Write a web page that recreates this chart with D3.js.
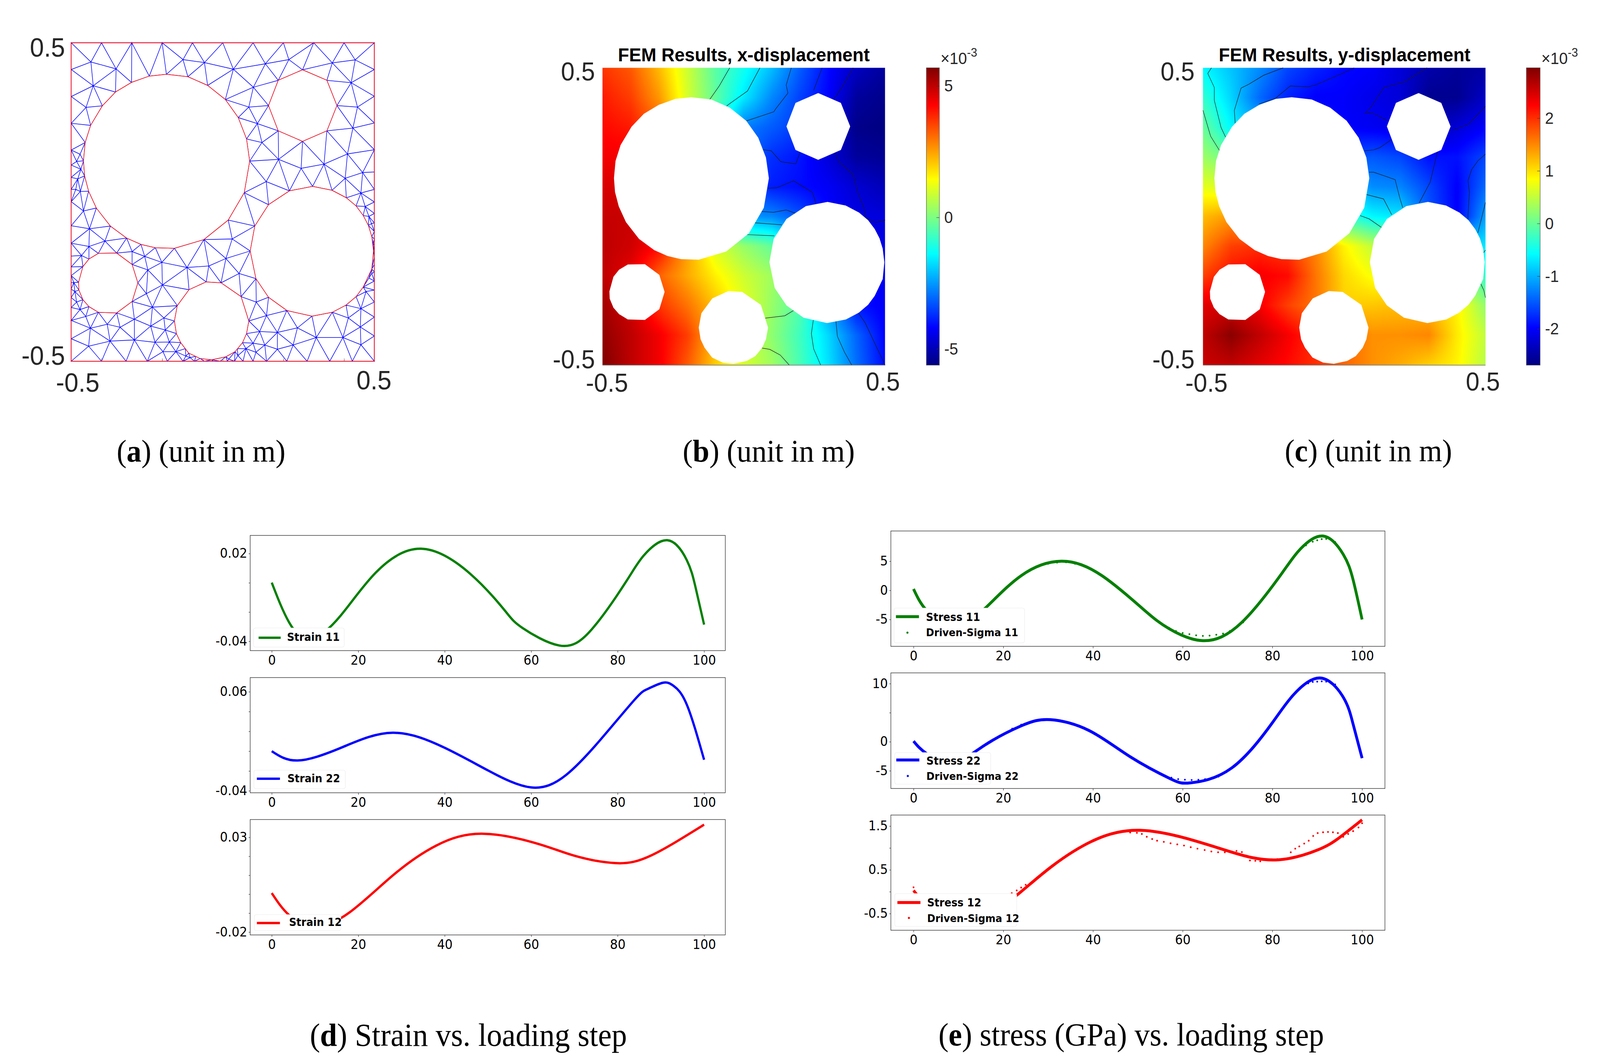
<!DOCTYPE html>
<html>
<head>
<meta charset="utf-8">
<script src="https://cdn.jsdelivr.net/npm/d3@7"></script>
<style>
html,body{margin:0;padding:0;background:#fff;overflow:hidden;width:100%;height:100%;}
svg{display:block;width:100vw;height:100vh;}
</style>
</head>
<body>
<svg id="chart" viewBox="0 0 4304 2704" preserveAspectRatio="none" xmlns="http://www.w3.org/2000/svg"></svg>
<script>
// ---------- line chart data: strain ----------
const strain11Steps=[0,4,9,16,24,34.5,46,54,58,66.5,74,82,86,91.5,96,98,100];
const strain11Values=[0.0001,-0.0270,-0.0385,-0.0222,0.0068,0.0233,0.0059,-0.0193,-0.0309,-0.0429,-0.0319,0.0010,0.0185,0.0291,0.0155,-0.0028,-0.0286];
const strain22Steps=[0,6,16,28,40,50,60,68,76,84,87,90.5,93,96,100];
const strain22Values=[0.0000,-0.0094,0.0034,0.0186,0.0034,-0.0194,-0.0366,-0.0243,0.0114,0.0523,0.0629,0.0691,0.0657,0.0470,-0.0086];
const strain12Steps=[0,4,10,18,28,38,49,62,70,79.5,88,100];
const strain12Values=[0.0006,-0.0110,-0.0170,-0.0096,0.0099,0.0256,0.0319,0.0263,0.0203,0.0164,0.0207,0.0367];
// ---------- line chart data: stress ----------
const stress11Steps=[0,3,9,15.8,24,33,42,51.3,57,64.5,73.2,82.2,86.3,91.3,95.8,98,100];
const stress11Values=[0.24,-3.54,-6.21,-3.2,2.52,5.0,2.52,-3.3,-6.6,-8.64,-5.49,3.01,7.14,9.32,6.17,1.8,-5.0];
const driven11Steps=[26,28,30,32,34,36,38,57,58.5,60,61.5,63,64.5,66,67.5,69,70.5,72,73.5,84,86,87.5,89,90,91,92,93,94];
const driven11Values=[3.5,4.22,4.56,4.76,4.81,4.56,4.13,-6.46,-6.99,-7.33,-7.52,-7.72,-7.82,-7.77,-7.62,-7.43,-6.99,-6.36,-5.49,4.95,6.89,7.72,8.35,8.59,8.79,8.83,8.69,8.3];
const stress22Steps=[0,3,9,15.8,24,30.5,39.2,48.3,57.3,61.8,70.9,80,84.5,90.5,95.8,98,100];
const stress22Values=[0.1,-2.1,-3.56,-0.63,2.73,3.8,1.9,-2.59,-6.39,-7.07,-4.54,3.27,7.9,10.98,7.66,3.02,-2.83];
const driven22Steps=[22,24,26,28,57.5,59,60.5,62,63.5,65,66.5,68,86,87,88,89,90,91,92,93,94];
const driven22Values=[2.24,2.93,3.41,3.76,-6.2,-6.44,-6.54,-6.59,-6.54,-6.44,-6.24,-6.0,9.12,9.76,10.05,10.29,10.34,10.39,10.34,10.2,9.85];
const stress12Steps=[0,2,6,11,18,23.4,30.9,40.7,50.5,61.1,70.9,80.7,90,95,100];
const stress12Values=[0.029,-0.21,-0.565,-0.7,-0.403,-0.048,0.584,1.197,1.403,1.21,0.906,0.726,0.95,1.24,1.642];
const driven12Steps=[0,21.9,23,24,25,48.3,49.8,50.9,52,53.2,54.3,55.8,57.3,58.8,60.3,61.8,63.3,64.9,66.4,67.9,69.4,70.9,72,73.2,75,76.2,77.3,78.8,79.9,81.1,84.1,85.1,86,87.1,88.1,89.1,90.1,91.3,92.4,93.5,94.6,95.8,96.9,98,99.2,100];
const driven12Values=[0.1,-0.035,0.029,0.094,0.158,1.352,1.345,1.319,1.255,1.203,1.165,1.139,1.106,1.081,1.055,1.016,0.984,0.952,0.919,0.9,0.9,0.919,0.932,0.906,0.713,0.706,0.694,0.726,0.739,0.745,0.9,0.984,1.035,1.1,1.165,1.274,1.339,1.358,1.365,1.358,1.339,1.255,1.319,1.384,1.468,1.565];
const stepTicks=[0,20,40,60,80,100];

// ---------- geometry data: in 1/1060 m from the lower-left corner ----------
const meshSide=1060;
const holeBig=[[333,955],[408,947],[477,918],[539,871],[584,811],[613,740],[624,666],[605,561],[549,470],[464,405],[361,376],[294,378],[244,389],[194,410],[137,450],[88,510],[61,566],[47,617],[43,667],[49,728],[68,785],[109,850],[155,896],[211,928],[273,949]];
const holeOct=[[809,970],[894,935],[929,851],[894,767],[809,732],[724,767],[690,851],[724,935]];
const holeRight=[[844,582],[912,569],[962,544],[996,517],[1021,485],[1039,452],[1051,415],[1057,367],[1051,307],[1021,247],[996,215],[961,187],[913,163],[842,150],[754,169],[690,213],[646,275],[626,367],[642,450],[690,521],[763,567]];
const holeLeft=[[95,359],[159,360],[213,322],[233,261],[213,199],[159,161],[95,163],[62,182],[41,205],[27,237],[26,263],[41,315],[62,340]];
const holeMid=[[472,264],[524,261],[594,215],[621,134],[613,92],[599,62],[573,32],[541,15],[491,5],[451,9],[411,27],[383,62],[368,92],[361,134],[371,185],[412,238]];
const edgeTopX=[0,106,212,318,424,530,636,742,848,954,1060];
const edgeRightY=[971,882,793,704,630,572,530,492,460,432,407,387,367,347,322,297,267,237,197,147,84];
const edgeBottomX=[0,106,192,266,336,391,431,466,496,521,546,571,601,636,683,754,825,904,983,1060];
const edgeLeftY=[971,881,792,703,653,612,572,531,451,393,350,314,285,262,240,212,179,136,75];
const meshInner=[[69,996],[157,973],[391,1004],[466,994],[567,972],[679,990],[761,1004],[913,993],[993,1003],[979,927],[77,917],[52,845],[637,912],[621,846],[651,791],[667,728],[1001,846],[985,776],[966,690],[884,656],[804,642],[725,672],[682,598],[958,609],[1019,628],[1013,560],[1028,515],[1041,482],[1050,458],[1056,392],[31,689],[19,665],[34,639],[23,607],[16,572],[32,565],[43,500],[64,441],[118,400],[62,382],[36,352],[213,365],[257,349],[317,329],[268,304],[405,312],[481,317],[563,407],[541,342],[587,292],[319,254],[263,225],[284,180],[324,144],[278,117],[221,140],[171,113],[126,123],[67,110],[51,149],[31,172],[19,197],[13,232],[9,262],[61,50],[136,67],[221,71],[293,63],[329,104],[343,64],[321,32],[366,32],[399,42],[401,17],[416,12],[436,17],[683,152],[647,197],[659,99],[721,96],[791,111],[857,79],[950,79],[1013,55],[1011,114],[1013,175],[969,144],[776,54],[721,40],[677,54],[636,60],[611,42],[646,30],[581,42],[583,19],[551,7],[1031,232],[1041,277],[1051,292]];

// ---------- field data: rows top (y=0.5) to bottom (y=-0.5), columns x=-0.5..0.5, unit 1e-3 m ----------
const fieldAxis=[-0.5,-0.4,-0.3,-0.2,-0.1,0,0.1,0.2,0.3,0.4,0.5];
const fieldX=[
[3.7,3.3,2.2,0.9,-0.4,-1.2,-2.1,-3.2,-4.1,-4.9,-5.3],
[4.0,3.6,2.6,1.0,-0.3,-1.6,-2.7,-3.5,-4.2,-5.3,-5.5],
[4.2,4.0,3.2,1.5,-0.8,-2.8,-3.2,-3.6,-4.6,-5.5,-5.6],
[4.4,4.4,4.0,2.0,0.0,-3.0,-3.7,-4.0,-4.6,-5.3,-5.4],
[4.7,4.7,4.2,2.5,0.5,-3.4,-3.9,-4.1,-4.3,-4.7,-5.0],
[4.9,4.9,4.4,3.0,1.0,-2.5,-2.7,-3.3,-4.2,-4.5,-4.6],
[5.0,4.8,4.2,2.5,1.0,0.3,-0.3,-2.0,-3.5,-4.4,-4.5],
[5.0,4.5,3.2,2.4,1.6,0.9,0.4,-0.5,-2.5,-4.0,-4.4],
[5.3,4.8,3.7,3.0,2.1,1.2,0.3,-0.5,-2.5,-4.0,-4.3],
[5.5,5.0,4.4,3.6,2.2,1.0,0.2,-0.7,-1.8,-3.1,-4.2],
[5.7,5.0,4.4,3.3,2.0,1.0,0.4,-0.6,-1.7,-3.0,-4.1]];
const fieldY=[
[-0.6,-0.9,-1.2,-1.6,-1.8,-1.95,-2.0,-2.2,-2.45,-2.55,-2.5],
[-0.3,-0.8,-1.4,-1.8,-2.0,-2.0,-2.1,-2.2,-2.6,-2.6,-2.3],
[0.0,-0.6,-1.0,-1.5,-1.8,-2.0,-2.05,-2.1,-2.4,-2.2,-2.0],
[0.3,0.0,-0.4,-0.9,-1.3,-1.6,-1.5,-1.6,-1.9,-1.9,-1.6],
[0.7,0.6,0.3,-0.1,-0.4,-0.8,-1.2,-1.25,-1.6,-2.0,-1.4],
[1.2,1.4,1.1,0.9,0.4,-0.3,-0.6,-0.7,-1.5,-2.0,-1.1],
[1.5,1.9,2.0,1.9,1.5,0.9,0.5,0.3,-0.5,-0.8,-0.7],
[1.9,2.2,2.3,2.2,1.6,1.05,0.8,0.8,0.5,0.3,-0.3],
[2.4,2.5,2.3,1.9,1.6,1.1,1.15,1.2,1.2,0.9,0.25],
[2.6,2.9,2.6,2.3,2.0,1.7,1.45,1.45,1.5,0.95,0.5],
[2.55,2.6,2.4,2.2,2.0,1.7,1.45,1.3,1.1,0.9,0.45]];
const colorDomainX=[-5.62,5.69];
const colorDomainY=[-2.689,2.956];
const colorTicksX=[-5,0,5];
const colorTicksY=[-2,-1,0,1,2];

// ---------- contour polylines (metres) ----------
const contoursX=[
[[-.050,.5],[-.087,.439],[-.121,.393]],
[[.057,.5],[.013,.422],[-.055,.376],[-.063,.369]],
[[.168,.5],[.150,.442],[.156,.415],[.113,.362],[.106,.352],[.008,.321]],
[[.277,.5],[.247,.424]],
[[.387,.5],[.345,.431],[.317,.393]],
[[.066,.225],[.097,.221],[.131,.184],[.184,.177],[.200,.218]],
[[.321,.218],[.338,.182],[.387,.142],[.403,.081],[.424,.032],[.433,-.006],[.466,-.020],[.5,-.012]],
[[.085,.095],[.115,.096],[.176,.120],[.243,.081],[.255,.044]],
[[.061,.017],[.105,.014],[.150,.022],[.182,.011]],
[[.036,-.021],[.134,-.028]],
[[.011,-.061],[.108,-.065]],
[[.076,-.342],[.145,-.334],[.176,-.316]],
[[.246,-.348],[.239,-.394],[.247,-.445],[.272,-.5]],
[[.326,-.352],[.331,-.403],[.356,-.456],[.382,-.5]],
[[.405,-.324],[.429,-.357],[.466,-.432],[.5,-.5]],
[[.062,-.442],[.092,-.447],[.129,-.466],[.161,-.5]]];
const contoursY=[
[[-.5,.357],[-.473,.270],[-.441,.221]],
[[-.470,.5],[-.483,.481],[-.460,.434],[-.460,.391],[-.436,.299],[-.420,.267]],
[[-.216,.5],[-.285,.475],[-.339,.444],[-.365,.432],[-.389,.357],[-.386,.313]],
[[.035,.5],[-.007,.481],[-.102,.442],[-.128,.436],[-.191,.439],[-.244,.397],[-.302,.378]],
[[.293,.5],[.214,.453],[.141,.434],[.093,.366],[.074,.348],[.098,.349],[.151,.323]],
[[.5,.371],[.441,.311],[.385,.290]],
[[.072,.221],[.104,.224],[.125,.231],[.168,.259]],
[[.088,.149],[.104,.149],[.180,.124],[.197,.061],[.207,.030]],
[[.330,.218],[.304,.115],[.265,.045]],
[[.5,.210],[.473,.187],[.451,.158],[.438,.120],[.443,.081],[.438,.003],[.438,-.011]],
[[.5,.047],[.473,-.055]],
[[.077,.074],[.139,.059],[.168,.006]],
[[.056,.003],[.088,-.008],[.132,-.037]],
[[.5,-.113],[.493,-.122]],
[[.483,-.226],[.494,-.248],[.5,-.273]]];

// ---------- texts ----------
const TICK="DejaVu Sans", MATLAB="Liberation Sans", SERIF="Liberation Serif";
const svg=d3.select("#chart");
svg.append("rect").attr("width",4304).attr("height",2704).attr("fill","#fff");

const holes=[holeBig,holeOct,holeRight,holeLeft,holeMid];
const toM=u=>u/meshSide-0.5;
const holesM=holes.map(h=>h.map(p=>[toM(p[0]),toM(p[1])]));

function label(g,x,y,t,size,anchor,family,opts){
  const o=opts||{};
  return g.append("text").attr("x",x).attr("y",y).attr("font-family",family).attr("font-size",size)
    .attr("text-anchor",anchor||"middle").attr("dominant-baseline","central")
    .attr("font-weight",o.weight||"normal").attr("fill",o.fill||"#262626").text(t);
}
function fitText(sel,target,base){ // resize so the rendered width equals target
  const w=sel.node().getComputedTextLength();
  sel.attr("font-size",base*target/w);
}

// ---------- panel (a): mesh ----------
(function(){
  const g=svg.append("g");
  const x=d3.scaleLinear().domain([-.5,.5]).range([191.5,1007]);
  const y=d3.scaleLinear().domain([-.5,.5]).range([925,109.5]);
  const nodes=[];
  edgeTopX.forEach(v=>nodes.push([v,meshSide]));
  edgeBottomX.forEach(v=>nodes.push([v,0]));
  edgeRightY.forEach(v=>nodes.push([meshSide,v]));
  edgeLeftY.forEach(v=>nodes.push([0,v]));
  meshInner.forEach(p=>nodes.push(p));
  holes.forEach(h=>h.forEach(p=>nodes.push(p)));
  const pts=nodes.map(p=>[toM(p[0]),toM(p[1])]);
  const del=d3.Delaunay.from(pts);
  const tri=del.triangles;
  const path=d3.path();
  for(let i=0;i<tri.length;i+=3){
    const a=pts[tri[i]],b=pts[tri[i+1]],c=pts[tri[i+2]];
    const cen=[(a[0]+b[0]+c[0])/3,(a[1]+b[1]+c[1])/3];
    if(holesM.some(h=>d3.polygonContains(h,cen))) continue;
    const area=Math.abs((b[0]-a[0])*(c[1]-a[1])-(c[0]-a[0])*(b[1]-a[1]));
    if(area<1e-7) continue;
    path.moveTo(x(a[0]),y(a[1]));path.lineTo(x(b[0]),y(b[1]));path.lineTo(x(c[0]),y(c[1]));path.closePath();
  }
  g.append("path").attr("d",path.toString()).attr("fill","none").attr("stroke","#0000ff").attr("stroke-width",1.5);
  const poly=d3.line().x(d=>x(d[0])).y(d=>y(d[1]));
  holesM.forEach(h=>g.append("path").attr("d",poly(h)+"Z").attr("fill","#fff").attr("stroke","#ff0000").attr("stroke-width",1.5));
  g.append("rect").attr("x",x(-.5)).attr("y",y(.5)).attr("width",x(.5)-x(-.5)).attr("height",y(-.5)-y(.5)).attr("fill","none").attr("stroke","#ff0000").attr("stroke-width",1.8);
  const ax=g.append("g").attr("transform",`translate(0,${y(-.5)})`).call(d3.axisBottom(x).tickValues([-.4,-.2,0,.2,.4]).tickSize(-7).tickFormat(""));
  ax.select(".domain").remove();
  ax.selectAll("line").attr("stroke","#444").attr("stroke-width",1);
  label(g,175,121,"0.5",68,"end",MATLAB);
  label(g,175,910,"-0.5",68,"end",MATLAB);
  label(g,209,979,"-0.5",68,"middle",MATLAB);
  label(g,1006,973,"0.5",68,"middle",MATLAB);
})();

// ---------- panels (b)(c): fields ----------
const jet=d3.scaleLinear().domain([0,.125,.375,.625,.875,1]).range(["#000080","#0000ff","#00ffff","#ffff00","#ff0000","#800000"]);
function drawField(cfg){
  const g=svg.append("g");
  const x=d3.scaleLinear().domain([-.5,.5]).range(cfg.xr);
  const y=d3.scaleLinear().domain([-.5,.5]).range([935,173.6]);
  const W=Math.round(cfg.xr[1]-cfg.xr[0]),H=Math.round(y(-.5)-y(.5));
  const cv=document.createElement("canvas");cv.width=W;cv.height=H;
  const ctx=cv.getContext("2d");
  const img=ctx.createImageData(W,H);
  const lut=d3.range(1025).map(i=>d3.rgb(jet(i/1024)));
  const col=d3.scaleLinear().domain(cfg.domain).range([0,1024]).clamp(true);
  const n=fieldAxis.length-1;
  for(let j=0;j<H;j++){
    const fy=j/(H-1)*n,r=Math.min(n-1,Math.floor(fy)),ty=fy-r;
    for(let i=0;i<W;i++){
      const fx=i/(W-1)*n,c=Math.min(n-1,Math.floor(fx)),tx=fx-c;
      const f=cfg.field;
      const v=(f[r][c]*(1-tx)+f[r][c+1]*tx)*(1-ty)+(f[r+1][c]*(1-tx)+f[r+1][c+1]*tx)*ty;
      const q=lut[Math.round(col(v))],k=(j*W+i)*4;
      img.data[k]=q.r;img.data[k+1]=q.g;img.data[k+2]=q.b;img.data[k+3]=255;
    }
  }
  ctx.putImageData(img,0,0);
  g.append("image").attr("x",x(-.5)).attr("y",y(.5)).attr("width",W).attr("height",H).attr("preserveAspectRatio","none").attr("href",cv.toDataURL("image/png"));
  const line=d3.line().x(d=>x(d[0])).y(d=>y(d[1]));
  cfg.contours.forEach(c=>g.append("path").attr("d",line(c)).attr("fill","none").attr("stroke","#1a1a1a").attr("stroke-width",1.2));
  holesM.forEach(h=>g.append("path").attr("d",line(h)+"Z").attr("fill","#fff").attr("stroke","none"));
  g.append("line").attr("x1",x(-.5)).attr("x2",x(.5)).attr("y1",y(-.5)).attr("y2",y(-.5)).attr("stroke","#666").attr("stroke-width",1.5);
  label(g,cfg.labelRight,183,"0.5",66,"end",MATLAB);
  label(g,cfg.labelRight,920,"-0.5",66,"end",MATLAB);
  label(g,cfg.labelLow,980.5,"-0.5",66,"middle",MATLAB);
  label(g,cfg.labelHigh,977.5,"0.5",66,"middle",MATLAB);
  const tt=label(g,cfg.titleX,140,cfg.title,46,"middle",MATLAB,{weight:"bold",fill:"#000"});
  fitText(tt,677,46);
  const id="grad"+cfg.id;
  const grad=svg.append("defs").append("linearGradient").attr("id",id).attr("x1",0).attr("x2",0).attr("y1",1).attr("y2",0);
  jet.domain().forEach(s=>grad.append("stop").attr("offset",s).attr("stop-color",jet(s)));
  const cy=d3.scaleLinear().domain(cfg.domain).range([935,173.6]);
  g.append("rect").attr("x",cfg.bar[0]).attr("y",173.6).attr("width",cfg.bar[1]-cfg.bar[0]).attr("height",761.4).attr("fill",`url(#${id})`).attr("stroke","#555").attr("stroke-width",1.2);
  const ax=g.append("g").attr("transform",`translate(${cfg.bar[1]},0)`).call(d3.axisLeft(cy).tickValues(cfg.ticks).tickSize(8).tickFormat(""));
  ax.select(".domain").remove();
  ax.selectAll("line").attr("stroke","#333").attr("stroke-width",1);
  cfg.ticks.forEach(t=>label(g,cfg.barLabel,cy(t),String(t),42,"start",MATLAB));
  const e=label(g,cfg.expX,150,"",42,"start",MATLAB);
  e.append("tspan").text("\u00d710");
  e.append("tspan").attr("font-size",31).attr("dy",-16).text("-3");
}
drawField({id:"b",xr:[1620.7,2381],field:fieldX,domain:colorDomainX,contours:contoursX,labelRight:1600.6,labelLow:1632.7,labelHigh:2375,title:"FEM Results, x-displacement",titleX:2001,bar:[2492,2527],ticks:colorTicksX,barLabel:2540,expX:2530});
drawField({id:"c",xr:[3236,3996],field:fieldY,domain:colorDomainY,contours:contoursY,labelRight:3213.5,labelLow:3245.5,labelHigh:3989,title:"FEM Results, y-displacement",titleX:3617,bar:[4106,4143],ticks:colorTicksY,barLabel:4156,expX:4146});

// ---------- panels (d)(e): line charts ----------
function drawLines(cfg){
  const g=svg.append("g");
  const x=d3.scaleLinear().domain([0,100]).range(cfg.x0100);
  const y=d3.scaleLinear().domain(cfg.yDomain).range([cfg.bottom,cfg.top]);
  const line=d3.line().x(d=>x(d[0])).y(d=>y(d[1])).curve(d3.curveNatural);
  g.append("path").attr("d",line(d3.zip(cfg.steps,cfg.values))).attr("fill","none").attr("stroke",cfg.color).attr("stroke-width",cfg.lw);
  if(cfg.dotSteps){
    g.selectAll("circle.dot").data(d3.zip(cfg.dotSteps,cfg.dotValues)).join("circle").attr("class","dot")
      .attr("cx",d=>x(d[0])).attr("cy",d=>y(d[1])).attr("r",2.4).attr("fill",cfg.color);
  }
  const L=cfg.legend;
  g.append("rect").attr("x",L.box[0]).attr("y",L.box[1]).attr("width",L.box[2]-L.box[0]).attr("height",L.box[3]-L.box[1]).attr("rx",5).attr("fill","#fff").attr("stroke","#ececec").attr("stroke-width",1.2);
  g.append("line").attr("x1",L.handle[0]).attr("x2",L.handle[1]).attr("y1",L.handle[2]).attr("y2",L.handle[2]).attr("stroke",cfg.color).attr("stroke-width",cfg.lw);
  label(g,L.textX,L.textY[0],cfg.name,27.5,"start",TICK,{weight:"bold",fill:"#000"});
  if(cfg.dotName){
    g.append("circle").attr("cx",L.dot[0]).attr("cy",L.dot[1]).attr("r",2.8).attr("fill",cfg.color);
    label(g,L.textX,L.textY[1],cfg.dotName,26.5,"start",TICK,{weight:"bold",fill:"#000"});
  }
  g.append("rect").attr("x",cfg.left).attr("y",cfg.top).attr("width",cfg.right-cfg.left).attr("height",cfg.bottom-cfg.top).attr("fill","none").attr("stroke","#333").attr("stroke-width",1.4);
  const ax=g.append("g").attr("transform",`translate(0,${cfg.bottom})`).call(d3.axisBottom(x).tickValues(stepTicks).tickSize(5).tickPadding(8));
  ax.select(".domain").remove();
  ax.selectAll("text").attr("font-family",TICK).attr("font-size",33).attr("fill","#000");
  const ay=g.append("g").attr("transform",`translate(${cfg.left},0)`).call(d3.axisLeft(y).tickValues(cfg.yTicks).tickSize(4).tickPadding(4).tickFormat(d=>cfg.yLabels.includes(d)?String(d):""));
  ay.select(".domain").remove();
  ay.selectAll("text").attr("font-family",TICK).attr("font-size",33).attr("fill","#000");
  g.selectAll(".tick line").attr("stroke","#333").attr("stroke-width",1.2);
}
const dX=[731,1894],eX=[2457.4,3664];
drawLines({x0100:dX,left:673,right:1951,top:1371,bottom:1666,yDomain:[-0.0464,0.0324],color:"#008000",lw:6,steps:strain11Steps,values:strain11Values,
  yTicks:[-0.04,-0.02,0,0.02],yLabels:[-0.04,0.02],name:"Strain 11",legend:{box:[682,1608,926,1657],handle:[695.6,755,1633],textX:772,textY:[1631]}});
drawLines({x0100:dX,left:673,right:1951,top:1735,bottom:2030,yDomain:[-0.042,0.0743],color:"#0000ff",lw:6,steps:strain22Steps,values:strain22Values,
  yTicks:[-0.04,-0.02,0,0.02,0.04,0.06],yLabels:[-0.04,0.06],name:"Strain 22",legend:{box:[683,1972,929,2019.5],handle:[691,753,1994],textX:773,textY:[1993]}});
drawLines({x0100:dX,left:673,right:1951,top:2098.5,bottom:2394,yDomain:[-0.0215,0.0394],color:"#ff0000",lw:6,steps:strain12Steps,values:strain12Values,
  yTicks:[-0.02,-0.01,0,0.01,0.02,0.03],yLabels:[-0.02,0.03],name:"Strain 12",legend:{box:[684,2342,917,2383],handle:[691,753,2363.5],textX:777.5,textY:[2361]}});
drawLines({x0100:eX,left:2396.4,right:3725.5,top:1359.6,bottom:1655,yDomain:[-9.61,10.19],color:"#008000",lw:7.5,steps:stress11Steps,values:stress11Values,dotSteps:driven11Steps,dotValues:driven11Values,
  yTicks:[-5,0,5],yLabels:[-5,0,5],name:"Stress 11",dotName:"Driven-Sigma 11",legend:{box:[2405,1557,2756,1646],handle:[2410,2472,1579],dot:[2441,1620],textX:2491,textY:[1580,1620]}});
drawLines({x0100:eX,left:2396.4,right:3725.5,top:1723,bottom:2019,yDomain:[-8.05,11.85],color:"#0000ff",lw:7.5,steps:stress22Steps,values:stress22Values,dotSteps:driven22Steps,dotValues:driven22Values,
  yTicks:[-5,0,5,10],yLabels:[-5,0,10],name:"Stress 22",dotName:"Driven-Sigma 22",legend:{box:[2407,1927,2665,2008],handle:[2411,2473,1946],dot:[2442,1987],textX:2492,textY:[1948,1988]}});
drawLines({x0100:eX,left:2396.4,right:3725.5,top:2087,bottom:2382,yDomain:[-0.881,1.752],color:"#ff0000",lw:7.5,steps:stress12Steps,values:stress12Values,dotSteps:driven12Steps,dotValues:driven12Values,
  yTicks:[-0.5,0,0.5,1,1.5],yLabels:[-0.5,0.5,1.5],name:"Stress 12",dotName:"Driven-Sigma 12",legend:{box:[2407,2288,2735,2372],handle:[2414,2476,2311],dot:[2445,2350.5],textX:2494,textY:[2311.5,2352]}});

// ---------- captions ----------
const captions=[
 {x:541,y:1155,w:454,letter:"a",rest:" (unit in m)"},
 {x:2068,y:1154,w:463,letter:"b",rest:" (unit in m)"},
 {x:3681,y:1154,w:450,letter:"c",rest:" (unit in m)"},
 {x:1260,y:2649,w:853,letter:"d",rest:" Strain vs. loading step"},
 {x:3043,y:2649,w:1037,letter:"e",rest:" stress (GPa) vs. loading step"}];
captions.forEach(c=>{
  const t=svg.append("text").attr("x",c.x).attr("y",c.y).attr("font-family",SERIF).attr("font-size",76).attr("text-anchor","middle").attr("dominant-baseline","central").attr("fill","#000");
  t.append("tspan").text("(");
  t.append("tspan").attr("font-weight","bold").text(c.letter);
  t.append("tspan").text(")"+c.rest);
  fitText(t,c.w,76);
});
</script>
</body>
</html>
